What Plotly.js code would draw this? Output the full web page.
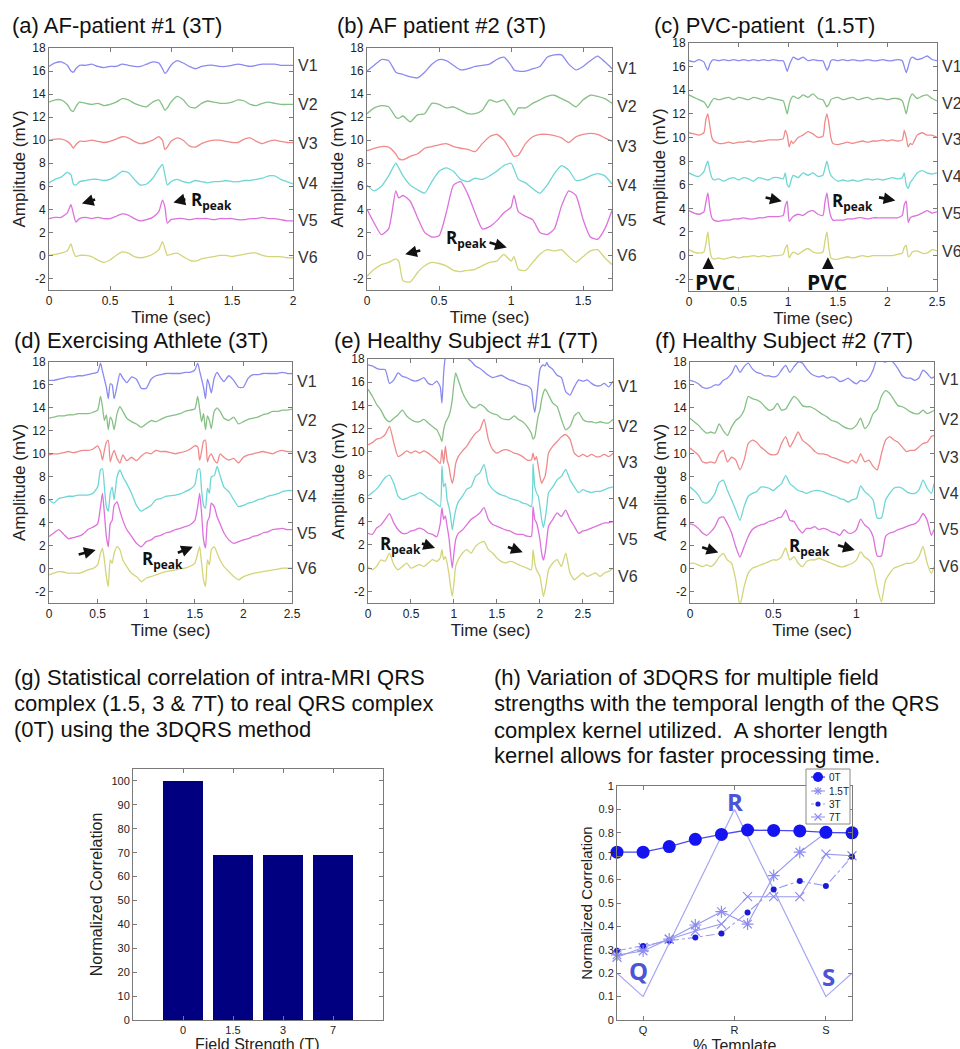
<!DOCTYPE html>
<html><head><meta charset="utf-8">
<script src="https://cdn.plot.ly/plotly-3.0.1.min.js"></script>
<style>html,body{margin:0;padding:0;background:#fff;}#chart{width:960px;height:1049px;}</style>
</head><body><div id="chart"></div>
<script>
// ---------------- DATA ----------------
const leadNames = ['V1','V2','V3','V4','V5','V6'];

// (a) AF-patient #1 (3T)
const aT  = [0,0.05,0.1,0.15,0.18,0.2,0.22,0.25,0.3,0.35,0.4,0.45,0.5,0.55,0.6,0.65,0.7,0.75,0.8,0.85,0.9,0.93,0.95,0.97,1.0,1.05,1.1,1.15,1.2,1.25,1.3,1.35,1.4,1.45,1.5,1.55,1.6,1.65,1.7,1.75,1.8,1.85,1.9,1.95,2.0];
const aV1 = [16.4,16.7,16.8,16.5,16.0,15.9,16.2,16.5,16.5,16.6,16.4,16.3,16.4,16.4,16.6,16.5,16.4,16.4,16.6,16.8,16.7,16.2,15.8,16.0,16.5,16.9,16.7,16.4,16.2,16.4,16.5,16.5,16.4,16.4,16.5,16.6,16.5,16.4,16.5,16.6,16.6,16.6,16.5,16.5,16.5];
const aV2 = [13.3,13.5,13.5,13.1,12.6,12.5,12.9,13.3,13.2,13.1,13.2,13.0,13.1,13.3,13.6,13.5,13.2,13.0,12.9,13.3,13.5,13.0,12.6,12.8,13.3,13.8,13.5,12.9,12.8,13.2,13.4,13.3,13.2,13.2,13.3,13.5,13.4,13.1,13.0,13.2,13.3,13.2,13.1,13.1,13.1];
const aV3 = [10.0,10.1,10.1,9.9,9.6,9.3,9.6,9.9,9.9,10.0,9.9,9.8,9.9,10.1,10.3,10.2,9.9,9.7,9.8,10.0,10.3,10.0,9.2,9.4,9.9,10.2,10.0,9.5,9.4,9.7,9.9,10.0,10.0,9.9,9.8,9.8,10.1,10.2,9.9,9.7,9.9,10.0,9.9,9.8,9.8];
const aV4 = [6.3,6.6,6.8,7.2,7.0,6.2,6.1,6.4,6.5,6.6,6.6,6.5,6.6,6.9,7.3,7.2,6.6,6.1,6.2,6.7,7.5,7.9,7.0,6.1,6.4,6.6,6.4,6.3,6.5,6.4,6.3,6.4,6.4,6.5,6.4,6.4,6.5,6.5,6.6,6.7,6.9,6.9,6.6,6.4,6.2];
const aV5 = [3.2,3.3,3.3,3.7,4.4,3.6,2.9,3.2,3.3,3.2,3.3,3.2,3.2,3.4,3.6,3.5,3.2,3.0,3.1,3.3,3.8,4.8,4.2,2.8,3.1,3.2,3.2,3.1,3.2,3.2,3.2,3.1,3.2,3.2,3.2,3.1,3.1,3.2,3.2,3.3,3.2,3.2,3.1,3.0,3.0];
const aV6 = [0.0,0.1,0.2,0.4,1.0,0.3,-0.1,0.0,0.0,-0.1,-0.4,-0.6,-0.4,0.0,0.3,0.2,-0.1,-0.2,-0.1,0.1,0.5,1.2,0.6,0.0,0.1,0.2,-0.1,-0.4,-0.5,-0.3,-0.2,-0.1,0.0,0.0,-0.1,0.0,0.1,0.2,0.2,0.0,-0.1,-0.1,-0.1,-0.2,-0.2];

// (b) AF patient #2 (3T)
const bT  = [0,0.05,0.1,0.15,0.2,0.22,0.25,0.3,0.35,0.4,0.45,0.5,0.55,0.6,0.65,0.7,0.75,0.8,0.85,0.9,0.95,1.0,1.02,1.05,1.1,1.15,1.2,1.25,1.3,1.35,1.4,1.45,1.5,1.55,1.6,1.65,1.7];
const bV1 = [16.0,16.5,17.0,16.9,15.9,15.8,15.7,15.5,15.4,15.9,16.6,17.0,16.9,16.5,16.1,16.2,16.4,16.5,16.6,17.0,17.2,16.5,16.1,16.0,16.0,16.2,16.4,17.2,17.4,17.4,16.6,16.1,16.4,16.9,17.3,16.8,16.2];
const bV2 = [12.3,12.8,13.0,12.9,12.0,11.9,12.1,11.6,12.2,12.3,13.2,13.1,12.8,12.9,12.6,12.3,12.3,12.6,13.5,13.3,13.5,12.6,12.2,12.8,12.8,13.2,13.5,13.8,13.9,13.6,13.3,12.9,13.5,13.9,13.8,13.6,13.2];
const bV3 = [9.1,9.3,9.45,9.4,8.8,8.4,8.3,8.6,8.8,9.3,9.45,9.6,9.7,9.45,9.3,9.2,9.0,9.7,10.3,10.5,10.0,9.0,8.6,8.7,9.7,10.3,10.5,10.5,10.4,10.2,9.8,10.3,10.5,10.6,10.5,10.2,9.9];
const bV4 = [6.1,5.6,6.0,6.9,8.0,7.6,6.9,6.1,5.7,5.4,6.4,7.3,7.6,7.3,6.6,6.4,6.7,6.6,6.9,7.3,7.8,8.0,7.5,6.6,6.3,5.8,5.4,6.1,7.1,7.8,7.4,6.5,6.6,6.9,7.1,6.9,6.2];
const bV5 = [4.0,2.8,1.8,2.3,5.6,5.0,5.2,4.7,3.3,2.0,1.6,1.7,3.7,6.1,6.4,5.3,3.7,2.3,2.5,3.0,3.7,4.2,5.2,3.8,3.4,3.1,2.0,1.8,2.3,4.3,5.6,5.2,3.1,1.6,1.4,2.3,3.9];
const bV6 = [-1.8,-1.2,-0.8,-0.6,-0.3,-0.5,-2.2,-2.3,-1.5,-0.9,-0.6,-0.7,-0.9,-1.3,-1.4,-1.3,-1.2,-0.9,-0.6,-0.5,0.1,-0.5,-0.1,-1.2,-1.3,-0.6,0.1,0.5,0.4,0.5,-0.1,-0.6,-0.1,0.4,0.5,-0.2,-0.8];

// (c) PVC-patient (1.5T)
const cT  = [0,0.05,0.1,0.15,0.17,0.19,0.21,0.23,0.25,0.3,0.35,0.4,0.45,0.5,0.55,0.6,0.65,0.7,0.75,0.8,0.85,0.9,0.95,0.97,0.99,1.01,1.03,1.05,1.1,1.15,1.2,1.25,1.3,1.35,1.37,1.39,1.41,1.43,1.45,1.5,1.55,1.6,1.65,1.7,1.75,1.8,1.85,1.9,1.95,2.0,2.05,2.1,2.15,2.17,2.19,2.21,2.23,2.25,2.3,2.35,2.4,2.45,2.5];
const cV1 = [16.5,16.4,16.6,16.4,16.0,15.7,16.2,16.5,16.6,16.5,16.6,16.5,16.6,16.5,16.6,16.5,16.6,16.5,16.6,16.5,16.6,16.5,16.5,16.1,15.6,16.1,16.5,16.8,16.6,16.8,16.5,16.6,16.5,16.5,16.1,15.7,16.0,16.5,16.6,16.5,16.6,16.5,16.6,16.5,16.5,16.6,16.5,16.5,16.6,16.5,16.5,16.6,16.5,16.0,15.5,16.0,16.6,16.8,16.6,16.7,16.9,16.6,16.5];
const cV2 = [13.6,13.4,13.2,13.0,12.8,12.5,12.8,13.1,13.3,13.2,13.3,13.4,13.2,13.4,13.3,13.2,13.4,13.3,13.2,13.4,13.3,13.2,13.1,12.6,12.0,12.8,13.3,13.5,13.3,13.6,13.4,13.7,13.3,13.2,12.9,12.6,12.8,13.2,13.3,13.4,13.2,13.3,13.4,13.2,13.3,13.4,13.2,13.3,13.3,13.2,13.3,13.3,13.1,12.6,12.0,12.8,13.4,13.7,13.3,13.5,13.6,13.3,13.1];
const cV3 = [10.4,10.3,10.2,10.4,11.5,12.0,11.0,10.0,9.7,9.5,9.5,9.6,9.5,9.6,9.6,9.7,9.6,9.7,9.7,9.8,9.8,9.8,9.9,10.6,10.2,9.2,9.7,9.5,10.0,10.2,10.5,10.3,10.0,10.1,11.3,12.0,11.2,10.0,9.5,9.4,9.5,9.6,9.5,9.6,9.7,9.6,9.7,9.7,9.8,9.7,9.8,9.7,9.8,10.6,10.0,9.2,9.5,9.4,10.2,10.4,10.2,10.2,10.0];
const cV4 = [7.0,6.8,6.7,7.1,7.6,8.0,7.2,6.6,6.4,6.5,6.3,6.5,6.6,6.4,6.6,6.5,6.3,6.6,6.5,6.4,6.6,6.6,6.5,7.0,6.0,5.8,6.4,6.8,6.6,7.0,6.8,7.0,6.7,6.8,7.4,8.0,7.3,6.8,6.6,6.3,6.4,6.3,6.4,6.3,6.4,6.5,6.4,6.5,6.4,6.5,6.6,6.5,6.6,7.0,6.0,5.7,6.2,6.4,7.0,7.2,7.0,6.9,7.0];
const cV5 = [3.8,3.6,3.5,3.7,4.5,5.3,4.0,3.2,3.0,2.9,3.0,3.0,3.1,3.1,3.2,3.1,3.1,3.2,3.2,3.3,3.3,3.3,3.4,4.2,4.6,2.9,3.1,3.3,3.5,3.4,3.7,3.8,3.5,3.4,4.5,5.3,4.1,3.3,3.0,3.0,3.0,3.1,3.1,3.2,3.2,3.1,3.2,3.2,3.2,3.2,3.2,3.2,3.4,4.3,4.6,2.8,3.2,3.3,3.4,3.6,3.8,3.6,3.7];
const cV6 = [0.5,0.3,0.2,0.3,1.0,2.0,0.5,-0.2,-0.3,-0.2,-0.3,-0.2,-0.1,-0.2,-0.1,-0.1,0.0,-0.1,0.0,-0.1,0.0,0.0,0.1,0.6,0.9,-0.2,0.1,0.3,0.1,0.4,0.6,0.3,0.2,0.3,1.2,2.0,0.6,-0.2,-0.3,-0.3,-0.2,-0.1,-0.2,-0.1,0.0,-0.1,0.0,0.0,0.0,0.0,0.0,0.1,0.2,0.7,0.85,-0.1,0.0,0.3,0.4,0.2,0.2,0.5,0.4];

// (d) Exercising Athlete (3T)
const dT  = [0,0.05,0.1,0.15,0.2,0.25,0.3,0.35,0.4,0.45,0.5,0.53,0.55,0.57,0.59,0.61,0.63,0.65,0.67,0.7,0.73,0.76,0.8,0.85,0.9,0.95,1.0,1.05,1.1,1.15,1.2,1.25,1.3,1.35,1.4,1.45,1.5,1.53,1.55,1.57,1.59,1.61,1.63,1.65,1.67,1.7,1.73,1.76,1.8,1.85,1.9,1.95,2.0,2.05,2.1,2.15,2.2,2.25,2.3,2.35,2.4,2.45,2.5];
const dV1 = [16.4,16.4,16.5,16.6,16.7,16.7,16.8,16.8,16.9,17.0,17.1,17.9,17.2,16.5,15.8,14.8,16.1,16.0,14.8,15.9,17.0,16.6,16.2,16.7,16.5,15.7,15.7,16.5,16.8,16.9,17.0,17.0,17.0,17.0,17.1,17.1,17.3,17.9,17.2,16.5,15.8,14.8,16.5,16.0,15.3,16.6,17.1,16.7,16.3,16.8,16.4,15.8,15.8,16.6,16.9,16.9,17.0,17.0,17.0,17.0,17.1,17.0,17.0];
const dV2 = [13.1,13.2,13.3,13.3,13.4,13.4,13.5,13.5,13.5,13.6,13.8,15.0,14.1,12.9,13.4,12.1,13.2,12.9,12.1,13.5,14.1,13.7,13.1,12.8,12.6,12.3,12.6,12.9,12.8,13.0,13.2,13.3,13.4,13.5,13.7,13.8,13.9,15.0,13.9,12.8,13.5,12.1,13.3,12.9,12.2,13.7,14.0,13.7,13.1,12.9,13.2,12.6,12.8,13.0,13.1,13.2,13.4,13.5,13.7,13.7,13.8,13.8,13.9];
const dV3 = [9.9,10.0,10.0,10.1,10.2,10.1,10.2,10.3,10.3,10.4,10.7,10.2,9.45,10.3,11.0,11.2,9.3,9.9,10.3,9.6,9.2,9.9,9.4,9.7,9.4,9.8,10.1,10.0,10.3,10.2,10.2,10.1,10.0,10.1,10.2,10.4,10.7,10.6,9.45,10.2,11.1,11.2,9.3,9.8,10.0,9.45,9.2,10.0,9.7,9.45,9.6,9.2,9.7,9.9,10.0,10.1,10.2,10.1,10.0,10.2,10.3,10.2,10.2];
const dV4 = [6.0,5.7,6.1,6.2,6.3,6.3,6.4,6.4,6.4,6.55,7.1,8.6,8.7,7.1,5.4,5.0,6.55,7.1,6.0,8.0,8.6,8.0,7.4,6.55,5.5,5.0,5.25,5.5,6.0,6.1,6.3,6.35,6.4,6.5,6.7,6.9,7.3,8.6,8.7,6.8,5.5,5.25,7.0,6.55,8.0,8.1,8.9,8.1,7.1,6.7,6.0,5.4,5.5,5.7,5.8,6.0,6.1,6.3,6.4,6.5,6.7,6.8,6.8];
const dV5 = [2.8,3.1,3.4,3.0,2.6,2.7,2.8,3.0,3.4,3.6,3.9,5.4,6.55,4.8,2.8,1.9,3.9,4.2,5.5,5.8,5.0,4.2,3.4,2.8,2.2,1.9,2.35,2.5,2.8,2.9,3.1,3.2,3.4,3.5,3.65,3.8,4.2,5.4,6.55,4.8,2.5,1.8,4.1,4.5,5.7,5.4,4.5,3.9,3.1,2.5,2.2,2.35,2.5,2.6,2.8,2.9,3.1,3.2,3.4,3.45,3.5,3.4,3.4];
const dV6 = [-0.55,-0.4,-0.26,-0.3,-0.41,-0.4,-0.41,-0.3,-0.12,0.0,0.32,1.33,1.77,0.75,-0.7,-1.57,0.75,0.46,1.33,1.91,1.62,0.75,0.17,-0.41,-0.7,-1.13,-0.84,-0.7,-0.55,-0.4,-0.26,-0.2,-0.12,0.0,0.03,0.2,0.46,1.33,1.91,0.46,-0.99,-1.57,0.75,0.32,1.62,1.91,1.33,0.75,0.17,-0.26,-0.7,-0.99,-0.7,-0.55,-0.41,-0.35,-0.26,-0.2,-0.12,-0.05,0.03,0.03,0.03];

// (e) Healthy Subject #1 (7T)
const eT  = [0,0.05,0.1,0.15,0.2,0.25,0.3,0.35,0.4,0.45,0.5,0.55,0.6,0.65,0.7,0.75,0.8,0.84,0.86,0.88,0.9,0.92,0.94,0.96,0.98,1.0,1.02,1.05,1.1,1.15,1.2,1.25,1.3,1.35,1.4,1.45,1.5,1.55,1.6,1.65,1.7,1.75,1.8,1.85,1.9,1.92,1.94,1.96,1.98,2.0,2.02,2.04,2.06,2.08,2.1,2.15,2.2,2.25,2.3,2.35,2.4,2.45,2.5,2.55,2.6,2.65,2.7,2.75,2.8,2.85];
const eV1 = [17.5,17.4,17.2,17.1,17.1,15.9,16.2,16.8,16.5,16.4,16.2,16.1,16.2,16.4,15.9,15.8,16.1,15.6,14.2,16.8,18.2,18.8,19.0,19.0,19.0,19.0,19.0,19.0,18.6,18.1,17.8,17.4,17.2,16.9,16.6,16.4,16.5,16.6,16.4,16.2,16.1,15.9,15.8,15.7,15.4,14.2,13.4,14.5,15.9,17.1,17.4,17.5,17.4,17.7,17.4,17.1,16.6,16.4,15.2,14.9,15.6,16.2,16.1,16.2,15.9,15.7,15.7,15.9,15.6,16.1];
const eV2 = [15.4,14.8,14.1,13.6,12.9,12.6,12.9,13.2,13.6,13.1,12.8,12.6,12.6,12.8,12.5,12.2,11.9,11.3,10.9,11.9,12.5,12.8,13.1,13.6,14.5,15.9,16.8,16.2,15.1,14.4,13.9,13.8,14.1,13.9,13.5,13.3,13.2,12.9,12.8,12.8,13.1,12.8,12.6,12.2,11.6,11.1,11.3,12.2,13.1,13.6,14.5,15.1,15.4,15.2,14.9,14.2,13.9,12.8,11.9,12.2,13.1,13.4,12.8,12.6,12.6,12.5,12.6,12.5,12.5,12.8];
const eV3 = [10.6,10.8,11.1,11.2,11.5,12.2,10.8,9.6,9.8,10.1,9.9,10.1,9.9,10.1,9.9,9.6,9.3,9.0,10.2,9.0,10.5,9.3,8.8,7.9,7.3,7.9,9.0,9.6,10.1,10.5,11.1,11.6,11.9,12.8,11.1,10.2,9.9,10.1,10.2,10.1,9.9,9.8,9.6,9.3,9.3,9.9,9.3,9.6,8.8,7.9,7.3,7.6,7.9,8.8,9.9,10.5,10.9,11.3,11.5,11.1,9.9,9.6,9.8,9.6,9.8,9.6,9.6,9.8,9.6,9.9];
const eV4 = [6.2,6.5,6.8,7.3,7.8,8.0,7.3,6.2,5.9,6.0,6.2,6.3,6.5,6.3,6.0,5.8,5.5,5.3,8.8,7.0,7.3,5.9,5.3,4.5,3.3,4.2,5.0,5.7,6.2,6.8,7.0,7.9,8.2,8.9,7.3,6.8,6.5,6.3,6.2,6.0,5.9,5.8,5.6,5.5,5.3,9.0,7.0,6.5,6.2,5.3,4.2,3.5,4.2,5.3,6.5,7.0,7.6,7.9,8.5,7.6,7.0,6.5,6.75,6.6,6.5,6.6,6.6,6.75,6.9,7.0];
const eV5 = [3.0,2.9,3.45,3.7,4.2,4.7,3.9,3.3,3.0,3.0,3.2,3.3,3.45,3.3,3.0,2.9,2.7,3.8,5.2,4.2,4.5,3.6,2.7,1.3,0.0,1.3,2.45,3.0,3.3,3.75,4.2,4.45,4.75,5.2,4.2,3.75,3.6,3.45,3.3,3.2,3.0,2.9,2.9,2.75,2.75,5.3,4.2,3.9,3.3,2.45,1.3,0.7,1.3,2.45,3.6,4.2,4.75,4.45,5.0,4.2,3.6,3.0,3.2,3.3,3.45,3.6,3.75,3.9,3.9,4.0];
const eV6 = [0.15,-0.14,0.15,0.7,0.6,1.3,0.3,-0.14,0.15,0.44,0.0,0.15,0.3,0.15,0.44,0.73,0.58,0.87,1.6,0.73,1.0,0.44,-0.42,-1.57,-2.43,-1.28,0.15,0.73,1.3,1.59,1.3,1.87,2.16,2.3,1.59,1.3,0.87,0.58,0.44,0.58,0.5,0.3,0.15,0.0,-0.14,1.59,0.44,-0.14,-0.42,-0.71,-1.57,-2.43,-1.86,-1.0,-0.14,0.44,0.73,0.15,1.3,-0.42,-1.0,-0.71,-0.42,-0.71,-0.56,-0.42,-0.71,-0.42,-0.28,0.01];

// (f) Healthy Subject #2 (7T)
const fT  = [0,0.025,0.05,0.075,0.1,0.125,0.15,0.175,0.2,0.225,0.25,0.275,0.3,0.325,0.35,0.375,0.4,0.425,0.45,0.475,0.5,0.525,0.55,0.575,0.6,0.625,0.65,0.675,0.7,0.725,0.75,0.775,0.8,0.825,0.85,0.875,0.9,0.925,0.95,0.975,1.0,1.025,1.05,1.075,1.1,1.125,1.15,1.175,1.2,1.225,1.25,1.275,1.3,1.325,1.35,1.375,1.4,1.425,1.45,1.466];
const fV1 = [16.4,16.3,16.1,15.8,15.7,15.8,16.0,16.0,16.4,16.6,17.0,17.7,17.1,17.6,17.9,17.4,17.1,17.0,16.8,16.8,16.7,16.8,17.3,17.7,17.1,17.6,18.0,17.9,17.4,17.0,16.8,16.7,16.8,16.6,16.7,16.6,16.3,16.4,16.6,16.3,16.1,16.4,16.3,16.6,17.3,18.3,18.1,18.0,18.3,17.9,17.4,16.8,16.6,16.6,16.4,16.6,17.3,17.0,16.6,16.7];
const fV2 = [13.1,12.8,12.5,12.1,11.8,11.9,11.8,12.6,12.0,11.6,12.35,12.9,13.2,13.8,15.0,14.8,14.7,14.5,14.1,13.8,13.9,14.4,13.8,13.9,14.5,15.0,14.7,14.2,14.1,14.1,13.9,13.65,13.4,13.2,12.9,12.8,12.6,12.35,12.2,12.2,12.5,13.1,12.2,12.6,13.5,13.9,15.0,15.5,15.25,14.7,14.2,14.1,13.9,13.65,13.5,13.5,13.8,13.5,13.65,13.8];
const fV3 = [10.5,10.2,9.9,9.3,9.2,9.3,9.2,10.0,10.3,9.3,9.7,9.45,8.6,9.45,10.9,11.2,11.0,10.6,10.3,10.0,9.9,10.0,10.9,11.5,10.6,11.2,11.9,11.2,10.9,10.6,10.2,10.0,10.0,9.9,9.7,9.6,9.45,9.3,9.2,9.45,9.2,10.0,9.3,9.45,8.9,8.6,10.0,11.2,11.5,11.2,11.0,10.6,10.2,10.3,10.3,10.6,10.9,11.0,11.5,11.6];
const fV4 = [7.1,6.8,6.4,5.8,5.7,6.0,6.55,7.5,7.7,6.8,5.97,5.1,4.2,5.4,6.3,6.55,6.7,7.1,7.1,7.0,6.8,7.1,7.4,8.1,7.4,7.1,6.8,6.7,6.55,6.7,6.8,6.8,6.7,6.55,6.4,6.3,6.1,6.0,5.8,6.0,6.1,7.2,6.7,6.4,5.97,4.4,4.4,5.97,6.55,7.0,7.1,7.0,6.7,6.55,6.55,6.84,7.7,7.0,6.55,7.4];
const fV5 = [3.9,3.8,3.5,3.1,2.9,3.2,3.65,4.4,4.5,3.9,3.1,1.9,1.0,1.9,2.8,3.4,3.65,3.8,3.9,4.1,4.2,4.4,4.5,5.1,4.2,4.1,3.5,3.1,3.5,3.5,3.65,3.4,3.5,3.4,3.2,3.1,2.9,3.4,3.1,3.1,3.4,4.3,3.8,3.5,2.8,1.1,1.1,2.8,3.1,3.2,3.4,3.5,3.65,3.8,3.9,4.2,4.8,4.2,2.9,3.4];
const fV6 = [0.46,0.46,0.32,0.17,0.32,0.17,0.46,1.0,1.3,0.75,0.46,-1.0,-3.2,-1.6,-0.4,0.03,0.17,0.32,0.46,0.61,0.75,0.75,1.04,1.8,0.75,1.04,0.46,0.17,0.61,0.75,0.75,0.9,0.75,0.61,0.46,0.32,0.17,0.17,0.32,0.46,0.75,1.45,1.0,0.75,0.17,-1.6,-2.9,-1.0,-0.41,0.03,0.17,0.32,0.46,0.46,0.61,1.04,1.9,0.46,-0.41,0.17];

// ECG y-axis ticks
const ecgTickVals = [-2,0,2,4,6,8,10,12,14,16,18];
const ecgTickText = ['-2','0','2','4','6','8','10','12','14','16','18'];

// (g) correlation bars
const gFields = ['0','1.5','3','7'];
const gCorr   = [100,69,69,69];

// (h) 3DQRS vs template length
const hIdx      = [1,2,3,4,5,6,7,8,9,10];
const h0T       = [0.717,0.717,0.741,0.772,0.793,0.812,0.810,0.808,0.802,0.800];
const h15T      = [0.278,0.295,0.346,0.406,0.463,0.410,0.617,0.717,0.800,0.800];
const h3T       = [0.296,0.316,0.339,0.353,0.370,0.459,0.558,0.594,0.573,0.698];
const h7T       = [0.268,0.310,0.345,0.380,0.410,0.527,0.527,0.527,0.709,0.702];
const hTplX     = [1,2,5.5,9,10];
const hTplY     = [0.2,0.1,0.9,0.1,0.2];
const hTickVals = [2,5.5,9];
const hTickText = ['Q','R','S'];
const hSeriesNames = ['0T','1.5T','3T','7T'];

// ---------------- LAYOUT / STYLE ----------------
const W = 960, H = 1049;
const FONT = 'Liberation Sans, Arial, sans-serif';
const BOLD = 'Open Sans, Liberation Sans, sans-serif';
const xd = (l, r) => [l / W, r / W];
const yd = (t, b) => [1 - b / H, 1 - t / H];
const px = v => v / W, py = v => 1 - v / H;
const leadColors = ['#8a8af0','#86c086','#f08a8a','#6fd6d6','#dc72dc','#d4d478'];
const lightBlue = '#9a9af0', symBlue = '#8c8cf0';

const panels = [
  {T:aT, V:[aV1,aV2,aV3,aV4,aV5,aV6], box:[49,293,48,290], xr:[0,2], title:'(a) AF-patient #1 (3T)', tx:10, ty:25, lab:[16.45,13.1,9.7,6.2,3.0,-0.2]},
  {T:bT, V:[bV1,bV2,bV3,bV4,bV5,bV6], box:[367,612,48,290], xr:[0,1.7], title:'(b) AF patient #2 (3T)', tx:335, ty:25, lab:[16.2,12.9,9.45,6.1,3.0,0.0]},
  {T:cT, V:[cV1,cV2,cV3,cV4,cV5,cV6], box:[689,937,43,291], xr:[0,2.5], title:'(c) PVC-patient\u00a0 (1.5T)', tx:652, ty:25, lab:[16.0,12.9,9.8,6.7,3.6,0.35]},
  {T:dT, V:[dV1,dV2,dV3,dV4,dV5,dV6], box:[49,292,362,603], xr:[0,2.5], title:'(d) Exercising Athlete (3T)', tx:12, ty:340, lab:[16.3,12.9,9.7,6.3,3.1,0.0]},
  {T:eT, V:[eV1,eV2,eV3,eV4,eV5,eV6], box:[368,613,359,603], xr:[0,2.85], title:'(e) Healthy Subject #1 (7T)', tx:332, ty:340, lab:[15.6,12.2,9.05,5.6,2.45,-0.7]},
  {T:fT, V:[fV1,fV2,fV3,fV4,fV5,fV6], box:[690,934,362,603], xr:[0,1.466], title:'(f) Healthy Subject #2 (7T)', tx:653, ty:340, lab:[16.5,13.0,9.7,6.55,3.4,0.2]}
];

const axBase = {
  showline:true, linecolor:'#7a7a7a', linewidth:1, mirror:'ticks',
  ticks:'inside', ticklen:4, tickcolor:'#7a7a7a', showgrid:false, zeroline:false,
  tickfont:{size:12, color:'#222', family:FONT}, fixedrange:true
};

const traces = [];
const layout = {
  width:W, height:H, margin:{l:0,r:0,t:0,b:0}, paper_bgcolor:'#fff', plot_bgcolor:'#fff',
  font:{family:FONT, color:'#222'}, showlegend:false, annotations:[], shapes:[]
};
const ann = layout.annotations, shp = layout.shapes;

function paperText(text, x, y, size, anchor, color) {
  ann.push({xref:'paper', yref:'paper', x:px(x), y:py(y), xanchor:anchor || 'left', yanchor:'middle', align:'left',
            text:text, showarrow:false, font:{size:size, family:FONT, color:color || '#111'}});
}
function arrow(k, hx, hy, tx, ty) {
  ann.push({xref:'x'+k, yref:'y'+k, axref:'x'+k, ayref:'y'+k, x:hx, y:hy, ax:tx, ay:ty, text:'',
            showarrow:true, arrowhead:2, arrowsize:0.9, arrowwidth:2.6, arrowcolor:'#111'});
}
function boldText(k, text, x, y, size) {
  ann.push({xref:'x'+k, yref:'y'+k, x:x, y:y, text:text, showarrow:false,
            font:{size:size, family:BOLD, color:'#111'}});
}

panels.forEach((p, i) => {
  const k = i + 1, ks = k === 1 ? '' : String(k);
  p.V.forEach((v, j) => {
    traces.push({x:p.T, y:v, xaxis:'x'+ks, yaxis:'y'+ks, type:'scatter', mode:'lines', name:leadNames[j],
      line:{color:leadColors[j], width:1.3, shape:'spline', smoothing:0.55}, showlegend:false, hoverinfo:'skip'});
    ann.push({xref:'x'+ks+' domain', yref:'y'+ks, x:1, y:p.lab[j], xanchor:'left', yanchor:'middle', xshift:3,
      text:leadNames[j], showarrow:false, font:{size:16, family:FONT, color:'#333'}});
  });
  layout['xaxis'+ks] = Object.assign({}, axBase, {domain:xd(p.box[0],p.box[1]), anchor:'y'+ks, range:p.xr, dtick:0.5, tick0:0,
    title:{text:'Time (sec)', font:{size:17, family:FONT, color:'#222'}, standoff:1}});
  layout['yaxis'+ks] = Object.assign({}, axBase, {domain:yd(p.box[2],p.box[3]), anchor:'x'+ks, range:[-3,18],
    tickmode:'array', tickvals:ecgTickVals, ticktext:ecgTickText,
    title:{text:'Amplitude (mV)', font:{size:17, family:FONT, color:'#222'}, standoff:2}});
  paperText(p.title, p.tx, p.ty, 22);
});

// R-peak arrows and labels
const RP = '<b>R<sub>peak</sub></b>';
arrow('', 0.27, 4.5, 0.39, 4.9); arrow('', 1.02, 4.6, 1.13, 4.9); boldText('', RP, 1.33, 4.75, 17);
arrow('2', 0.265, 0.1, 0.38, 0.47); boldText('2', RP, 0.69, 1.5, 17); arrow('2', 0.97, 0.68, 0.84, 1.16);
arrow('3', 0.935, 4.6, 0.757, 4.95); boldText('3', RP, 1.65, 4.6, 17); arrow('3', 2.08, 4.67, 1.9, 4.95);
arrow('3', 0.195, -0.15, 0.195, -1.0); arrow('3', 1.40, -0.15, 1.40, -1.0);
boldText('3', '<b>PVC</b>', 0.26, -2.2, 21); boldText('3', '<b>PVC</b>', 1.39, -2.2, 21);
arrow('4', 0.48, 1.62, 0.29, 1.19); boldText('4', RP, 1.17, 0.75, 17); arrow('4', 1.48, 1.9, 1.31, 1.33);
boldText('5', RP, 0.375, 2.0, 17); arrow('5', 0.78, 1.73, 0.61, 2.16); arrow('5', 1.8, 1.36, 1.61, 1.87);
arrow('6', 0.17, 1.39, 0.064, 1.91); boldText('6', RP, 0.716, 1.9, 17); arrow('6', 0.99, 1.62, 0.88, 2.06);

// (g) bar chart
traces.push({x:gFields, y:gCorr, xaxis:'x7', yaxis:'y7', type:'bar', marker:{color:'#000080', line:{width:0}},
  width:0.8, showlegend:false, hoverinfo:'skip'});
layout.xaxis7 = Object.assign({}, axBase, {domain:xd(133,383), anchor:'y7', type:'category', range:[-1,4],
  tickfont:{size:11, color:'#222', family:FONT}});
layout.yaxis7 = Object.assign({}, axBase, {domain:yd(769,1020), anchor:'x7', range:[0,105], dtick:10, tick0:0,
  tickfont:{size:11, color:'#222', family:FONT},
  title:{text:'Normalized Correlation', font:{size:16, family:FONT, color:'#222'}, standoff:4}});
paperText('Field Strength (T)', 257, 1044, 16, 'center', '#222');
['(g) Statistical correlation of intra-MRI QRS','complex (1.5, 3 &amp; 7T) to real QRS complex','(0T) using the 3DQRS method']
  .forEach((t, i) => paperText(t, 12, [677,703,729][i], 22));

// (h) line chart
traces.push({x:hTplX, y:hTplY, xaxis:'x8', yaxis:'y8', type:'scatter', mode:'lines',
  line:{color:'#a6a6f0', width:1.2}, showlegend:false, hoverinfo:'skip', cliponaxis:false});
traces.push({x:hIdx, y:h7T, xaxis:'x8', yaxis:'y8', type:'scatter', mode:'lines+markers', name:hSeriesNames[3],
  line:{color:lightBlue, width:1.1}, marker:{symbol:'x-thin-open', size:9, color:symBlue, line:{width:1.2, color:symBlue}},
  cliponaxis:false, hoverinfo:'skip'});
traces.push({x:hIdx, y:h3T, xaxis:'x8', yaxis:'y8', type:'scatter', mode:'lines+markers', name:hSeriesNames[2],
  line:{color:lightBlue, width:1.1, dash:'dashdot'}, marker:{symbol:'circle', size:6, color:'#1a1ad8'},
  cliponaxis:false, hoverinfo:'skip'});
traces.push({x:hIdx, y:h15T, xaxis:'x8', yaxis:'y8', type:'scatter', mode:'lines+markers', name:hSeriesNames[1],
  line:{color:lightBlue, width:1.1}, marker:{symbol:'asterisk-open', size:10, color:symBlue, line:{width:1.2, color:symBlue}},
  cliponaxis:false, hoverinfo:'skip'});
traces.push({x:hIdx, y:h0T, xaxis:'x8', yaxis:'y8', type:'scatter', mode:'lines+markers', name:hSeriesNames[0],
  line:{color:'#4a4af0', width:1.3}, marker:{symbol:'circle', size:13, color:'#1414f0'},
  cliponaxis:false, hoverinfo:'skip'});
layout.xaxis8 = Object.assign({}, axBase, {domain:xd(617,852), anchor:'y8', range:[1,10], tickmode:'array',
  tickvals:hTickVals, ticktext:hTickText, tickfont:{size:11, color:'#222', family:FONT}});
layout.yaxis8 = Object.assign({}, axBase, {domain:yd(786,1020), anchor:'x8', range:[0,1], dtick:0.1, tick0:0,
  tickfont:{size:11, color:'#222', family:FONT},
  title:{text:'Normalized Correlation', font:{size:15, family:FONT, color:'#222'}, standoff:2}});
paperText('% Template', 734, 1045, 16, 'center', '#222');
['(h) Variation of 3DQRS for multiple field','strengths with the temporal length of the QRS','complex kernel utilized.  A shorter length','kernel allows for faster processing time.']
  .forEach((t, i) => paperText(t, 492, [677,703,730,755][i], 22));
['<b>Q</b>','<b>R</b>','<b>S</b>'].forEach((t, i) => {
  const pos = [[1.83,0.21],[5.5,0.935],[9.1,0.185]][i];
  ann.push({xref:'x8', yref:'y8', x:pos[0], y:pos[1], text:t, showarrow:false,
    font:{size:24, family:BOLD, color:'#4b55d6'}});
});

// (h) legend box (compact, MATLAB style)
const LG = {l:806, r:850, t:769, b:824, rows:[777,791,804,817], sx:818, lx0:811, lx1:825, tx:827};
shp.push({type:'rect', xref:'paper', yref:'paper', x0:px(LG.l), x1:px(LG.r), y0:py(LG.b), y1:py(LG.t),
  line:{color:'#8a8a8a', width:1}, fillcolor:'#fff', layer:'above'});
const pxShape = (row, o) => Object.assign({xref:'paper', yref:'paper', xsizemode:'pixel', ysizemode:'pixel',
  xanchor:px(LG.sx), yanchor:py(row), layer:'above'}, o);
const legStyles = [
  {line:{color:'#4a4af0', width:1.3}},
  {line:{color:lightBlue, width:1.1}},
  {line:{color:lightBlue, width:1.1, dash:'dot'}},
  {line:{color:lightBlue, width:1.1}}
];
LG.rows.forEach((row, i) => {
  shp.push(Object.assign({type:'line', xref:'paper', yref:'paper', x0:px(LG.lx0), x1:px(LG.lx1), y0:py(row), y1:py(row), layer:'above'}, legStyles[i]));
  ann.push({xref:'paper', yref:'paper', x:px(LG.tx), y:py(row), xanchor:'left', yanchor:'middle', text:hSeriesNames[i],
    showarrow:false, font:{size:10, family:FONT, color:'#222'}});
});
shp.push(pxShape(LG.rows[0], {type:'circle', x0:-5, x1:5, y0:-5, y1:5, fillcolor:'#1414f0', line:{width:0}}));
[[-4,0,4,0],[0,-4,0,4],[-3,-3,3,3],[-3,3,3,-3]].forEach(s =>
  shp.push(pxShape(LG.rows[1], {type:'line', x0:s[0], y0:s[1], x1:s[2], y1:s[3], line:{color:symBlue, width:1.1}})));
shp.push(pxShape(LG.rows[2], {type:'circle', x0:-2.6, x1:2.6, y0:-2.6, y1:2.6, fillcolor:'#1a1ad8', line:{width:0}}));
[[-3.5,-3.5,3.5,3.5],[-3.5,3.5,3.5,-3.5]].forEach(s =>
  shp.push(pxShape(LG.rows[3], {type:'line', x0:s[0], y0:s[1], x1:s[2], y1:s[3], line:{color:symBlue, width:1.1}})));

Plotly.newPlot('chart', traces, layout, {staticPlot:true, displayModeBar:false});
</script></body></html>
